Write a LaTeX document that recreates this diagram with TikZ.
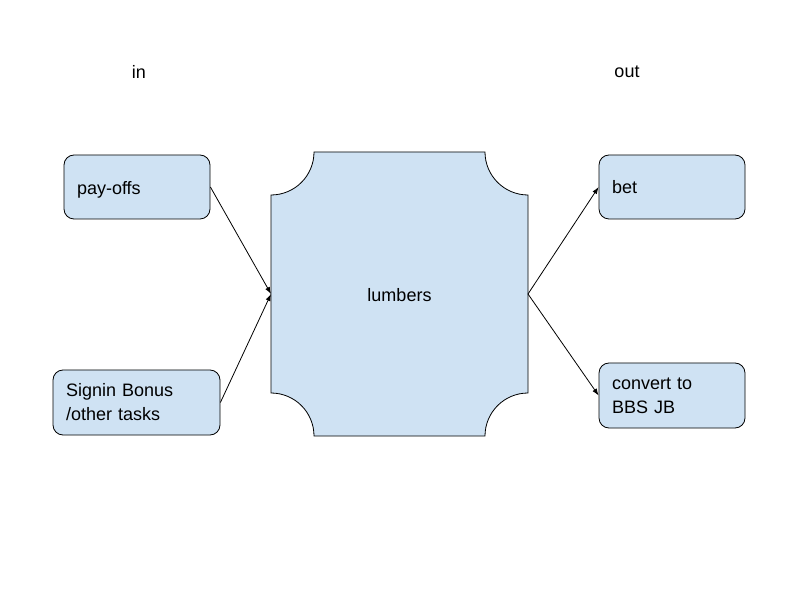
\documentclass[tikz,border=0pt]{standalone}
\usepackage{fontspec}
\setmainfont{Liberation Sans}
\usetikzlibrary{arrows.meta}
\definecolor{boxfill}{HTML}{CFE2F3}
\tikzset{
  box/.style={draw=black, line width=0.8pt, fill=boxfill, rounded corners=10pt,
    minimum height=#1, inner xsep=13pt, inner ysep=0pt, align=left},
  lbl/.style={font=\fontsize{18}{24}\selectfont},
  conn/.style={draw=black, line width=0.8pt, -{Latex[length=7pt,width=5pt]}},
}
\begin{document}
\begin{tikzpicture}[x=1pt,y=1pt]
\useasboundingbox (0,0) rectangle (800,600);
\fill[white] (0,0) rectangle (800,600);
% central shape
\path[draw=black, line width=0.8pt, fill=boxfill]
  (314,448) -- (485,448) arc[start angle=180,end angle=270,radius=43]
  -- (528,207) arc[start angle=90,end angle=180,radius=43]
  -- (314,164) arc[start angle=0,end angle=90,radius=43]
  -- (271,405) arc[start angle=-90,end angle=0,radius=43] -- cycle;
\node[lbl] (lumb) at (399.5,305) {lumbers};
\coordinate (lumbL) at (271,306);
\coordinate (lumbR) at (528,306);
% headings
\node[lbl] (in) at (139,528) {in};
\node[lbl] (out) at (627,528) {out};
% boxes
\node[box=64pt, lbl, minimum width=146pt, text width=120pt, text depth=0pt] (pay) at (137,413) {\raisebox{-2pt}{pay-offs}};
\node[box=65pt, lbl, minimum width=167pt, text width=141pt] (sign) at (136.5,197.5) {Signin Bonus\\/other tasks};
\node[box=64pt, lbl, minimum width=146pt, text width=120pt] (bet) at (672,413) {\raisebox{-1pt}{bet}};
\node[box=65pt, lbl, minimum width=146pt, text width=120pt] (conv) at (672,204.5) {convert to\\BBS JB};
% connectors
\draw[conn] (pay.east) -- (lumbL);
\draw[conn] (sign.east) -- (lumbL);
\draw[conn] (lumbR) -- (bet.west);
\draw[conn] (lumbR) -- (conv.west);
\end{tikzpicture}
\end{document}
